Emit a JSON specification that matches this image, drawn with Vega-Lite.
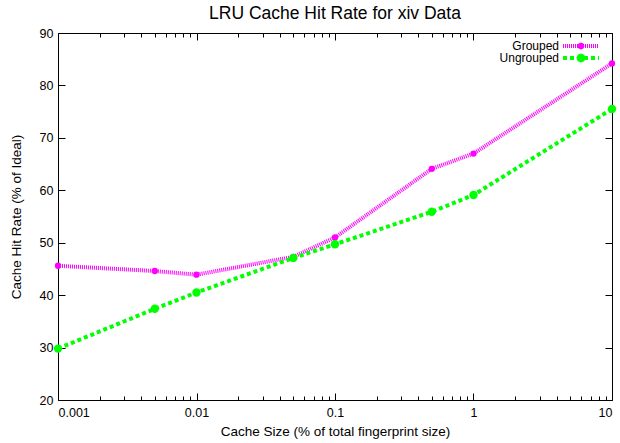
{
  "$schema": "https://vega.github.io/schema/vega-lite/v6.json",
  "width": 554,
  "height": 367,
  "autosize": {"type": "none"},
  "padding": {"left": 58, "top": 33, "right": 8, "bottom": 43},
  "background": "white",
  "title": {"text": "LRU Cache Hit Rate for xiv Data", "fontSize": 17.5, "fontWeight": "normal", "font": "Liberation Sans", "color": "black", "anchor": "middle", "offset": 4.5},
  "data": {"values": [
    {"size": 0.001, "rate": 45.6, "series": "Grouped"},
    {"size": 0.005, "rate": 44.6, "series": "Grouped"},
    {"size": 0.01, "rate": 43.9, "series": "Grouped"},
    {"size": 0.05, "rate": 47.3, "series": "Grouped"},
    {"size": 0.1, "rate": 51.0, "series": "Grouped"},
    {"size": 0.5, "rate": 64.1, "series": "Grouped"},
    {"size": 1, "rate": 67.0, "series": "Grouped"},
    {"size": 10, "rate": 84.2, "series": "Grouped"},
    {"size": 0.001, "rate": 29.8, "series": "Ungrouped"},
    {"size": 0.005, "rate": 37.4, "series": "Ungrouped"},
    {"size": 0.01, "rate": 40.5, "series": "Ungrouped"},
    {"size": 0.05, "rate": 47.1, "series": "Ungrouped"},
    {"size": 0.1, "rate": 49.7, "series": "Ungrouped"},
    {"size": 0.5, "rate": 55.9, "series": "Ungrouped"},
    {"size": 1, "rate": 59.1, "series": "Ungrouped"},
    {"size": 10, "rate": 75.5, "series": "Ungrouped"}
  ]},
  "resolve": {"axis": {"x": "independent", "y": "independent"}},
  "layer": [
    {
      "mark": {"type": "line", "strokeWidth": 4, "clip": false},
      "encoding": {
        "x": {"field": "size", "type": "quantitative", "scale": {"type": "log", "domain": [0.001, 10], "nice": false},
              "axis": {"orient": "bottom", "values": [0.001, 0.01, 0.1, 1, 10], "format": "~g", "tickSize": -7, "labelPadding": 13, "title": "Cache Size (% of total fingerprint size)", "titlePadding": 6}},
        "y": {"field": "rate", "type": "quantitative", "scale": {"domain": [20, 90], "nice": false, "zero": false},
              "axis": {"orient": "left", "values": [20, 30, 40, 50, 60, 70, 80, 90], "tickSize": -7, "labelPadding": 12, "title": "Cache Hit Rate (% of Ideal)", "titlePadding": 16}},
        "color": {"field": "series", "type": "nominal", "scale": {"domain": ["Grouped", "Ungrouped"], "range": ["#ff00ff", "#00ff00"]},
                  "legend": {"orient": "none", "legendX": 517, "legendY": 7, "title": null,
                             "symbolType": "square",
                             "symbolSize": 64, "symbolStrokeWidth": 0, "labelAlign": "right", "labelOffset": -28, "labelFont": "Liberation Sans", "labelFontSize": 12, "labelColor": "black", "rowPadding": 0,
                             "encode": {"symbols": {"update": {
                               "shape": {"signal": "datum.value === 'Grouped' ? 'M-4.5,-0.5L-4.25,-0.5L-4.25,0.5L-4.5,0.5ZM-4,-0.5L-3.75,-0.5L-3.75,0.5L-4,0.5ZM-3.5,-0.5L-3.25,-0.5L-3.25,0.5L-3.5,0.5ZM-3,-0.5L-2.75,-0.5L-2.75,0.5L-3,0.5ZM-2.5,-0.5L-2.25,-0.5L-2.25,0.5L-2.5,0.5ZM-2,-0.5L-1.75,-0.5L-1.75,0.5L-2,0.5ZM-1.5,-0.5L-1.25,-0.5L-1.25,0.5L-1.5,0.5ZM-1,-0.5L-0.75,-0.5L-0.75,0.5L-1,0.5ZM-0.5,-0.5L-0.25,-0.5L-0.25,0.5L-0.5,0.5ZM0,-0.5L0.25,-0.5L0.25,0.5L0,0.5ZM0.5,-0.5L0.75,-0.5L0.75,0.5L0.5,0.5ZM1,-0.5L1.25,-0.5L1.25,0.5L1,0.5ZM1.5,-0.5L1.75,-0.5L1.75,0.5L1.5,0.5ZM2,-0.5L2.25,-0.5L2.25,0.5L2,0.5ZM2.5,-0.5L2.75,-0.5L2.75,0.5L2.5,0.5ZM3,-0.5L3.25,-0.5L3.25,0.5L3,0.5ZM3.5,-0.5L3.75,-0.5L3.75,0.5L3.5,0.5ZM4,-0.5L4.25,-0.5L4.25,0.5L4,0.5ZM0.875,0L0.619,0.619L0,0.875L-0.619,0.619L-0.875,0L-0.619,-0.619L0,-0.875L0.619,-0.619Z' : 'M-4.5,-0.5L-3.5,-0.5L-3.5,0.5L-4.5,0.5ZM-2.75,-0.5L-1.75,-0.5L-1.75,0.5L-2.75,0.5ZM-1,-0.5L0,-0.5L0,0.5L-1,0.5ZM0.75,-0.5L1.75,-0.5L1.75,0.5L0.75,0.5ZM2.5,-0.5L3.5,-0.5L3.5,0.5L2.5,0.5ZM4.25,-0.5L4.5,-0.5L4.5,0.5L4.25,0.5ZM1.15,0L0.813,0.813L0,1.15L-0.813,0.813L-1.15,0L-0.813,-0.813L0,-1.15L0.813,-0.813Z'"},
                               "fill": {"scale": "color", "field": "value"},
                               "fillOpacity": {"value": 1},
                               "size": {"value": 64},
                               "strokeWidth": {"value": 0},
                               "stroke": {"value": "transparent"}}}}}},
        "strokeDash": {"field": "series", "type": "nominal", "scale": {"domain": ["Grouped", "Ungrouped"], "range": [[1, 1], [4, 3]]}}
      }
    },
    {
      "transform": [{"filter": "datum.series === 'Grouped'"}],
      "mark": {"type": "point", "filled": true, "opacity": 1, "shape": "circle", "size": 40, "clip": false, "color": "#ff00ff"},
      "encoding": {
        "x": {"field": "size", "type": "quantitative", "scale": {"type": "log", "domain": [0.001, 10], "nice": false},
              "axis": {"orient": "top", "values": [0.001, 0.01, 0.1, 1, 10], "labels": false, "tickSize": -7, "title": null}},
        "y": {"field": "rate", "type": "quantitative", "scale": {"domain": [20, 90], "nice": false, "zero": false},
              "axis": {"orient": "right", "values": [20, 30, 40, 50, 60, 70, 80, 90], "labels": false, "tickSize": -7, "title": null}}
      }
    },
    {
      "transform": [{"filter": "datum.series === 'Ungrouped'"}],
      "mark": {"type": "point", "filled": true, "opacity": 1, "shape": "circle", "size": 70, "clip": false, "color": "#00ff00"},
      "encoding": {
        "x": {"field": "size", "type": "quantitative", "scale": {"type": "log", "domain": [0.001, 10], "nice": false}, "axis": null},
        "y": {"field": "rate", "type": "quantitative", "scale": {"domain": [20, 90], "nice": false, "zero": false}, "axis": null}
      }
    },
    {
      "mark": {"type": "point", "opacity": 0},
      "encoding": {
        "x": {"field": "size", "type": "quantitative", "scale": {"type": "log", "domain": [0.001, 10], "nice": false},
              "axis": {"orient": "bottom", "values": [0.002, 0.003, 0.004, 0.005, 0.006, 0.007, 0.008, 0.009, 0.02, 0.03, 0.04, 0.05, 0.06, 0.07, 0.08, 0.09, 0.2, 0.3, 0.4, 0.5, 0.6, 0.7, 0.8, 0.9, 2, 3, 4, 5, 6, 7, 8, 9], "labels": false, "tickSize": -4, "title": null}},
        "y": {"field": "rate", "type": "quantitative", "scale": {"domain": [20, 90], "nice": false, "zero": false}, "axis": null}
      }
    },
    {
      "mark": {"type": "point", "opacity": 0},
      "encoding": {
        "x": {"field": "size", "type": "quantitative", "scale": {"type": "log", "domain": [0.001, 10], "nice": false},
              "axis": {"orient": "top", "values": [0.002, 0.003, 0.004, 0.005, 0.006, 0.007, 0.008, 0.009, 0.02, 0.03, 0.04, 0.05, 0.06, 0.07, 0.08, 0.09, 0.2, 0.3, 0.4, 0.5, 0.6, 0.7, 0.8, 0.9, 2, 3, 4, 5, 6, 7, 8, 9], "labels": false, "tickSize": -4, "title": null}},
        "y": {"field": "rate", "type": "quantitative", "scale": {"domain": [20, 90], "nice": false, "zero": false}, "axis": null}
      }
    }
  ],
  "config": {
    "view": {"stroke": "black", "strokeWidth": 1},
    "axis": {"domain": false, "grid": false, "tickColor": "black", "tickWidth": 1, "labelColor": "black", "labelFont": "Liberation Sans", "labelFontSize": 12.5, "titleFont": "Liberation Sans", "titleFontSize": 13.5, "titleFontWeight": "normal", "titleColor": "black"}
  }
}
